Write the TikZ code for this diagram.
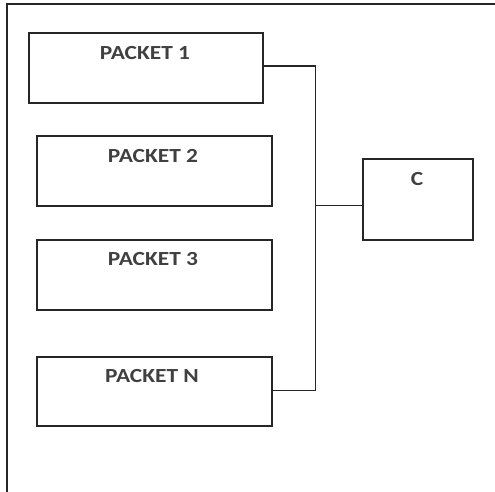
\documentclass[tikz,border=0pt]{standalone}
\usepackage{fontspec}
\usepackage{graphicx}
\setmainfont{Carlito}
\newcommand{\wide}[1]{\scalebox{1.17}[1]{#1}}
\begin{document}
\begin{tikzpicture}[x=1pt,y=-1pt,
  box/.style={draw=black!85,line width=1.2pt},
  wire/.style={draw=black!85,line width=1.2pt},
  lbl/.style={font=\fontsize{20}{20}\selectfont\bfseries,text=black!75}]
\useasboundingbox (0,0) rectangle (495,492);
\draw[wire] (7,492) -- (7,4) -- (495,4);
\draw[box] (29,33) rectangle (263,103);
\node[lbl] (t1) at (145,53) {\wide{PACKET 1}};
\draw[box] (37,136) rectangle (272,206);
\node[lbl] (t2) at (153,156) {\wide{PACKET 2}};
\draw[box] (37,240) rectangle (272,310);
\node[lbl] (t3) at (153,259) {\wide{PACKET 3}};
\draw[box] (37,357) rectangle (272,426);
\node[lbl] (tn) at (152,376) {\wide{PACKET N}};
\draw[box] (363,159) rectangle (473,240);
\node[lbl] (tc) at (417,179) {\wide{C}};
\coordinate (p1) at (263,66);
\coordinate (pn) at (272,390.5);
\coordinate (c) at (363,205.5);
\draw[wire] (p1) -- (315.5,66) -- (315.5,390.5) -- (pn);
\draw[wire] (315.5,205.5) -- (c);
\end{tikzpicture}
\end{document}
